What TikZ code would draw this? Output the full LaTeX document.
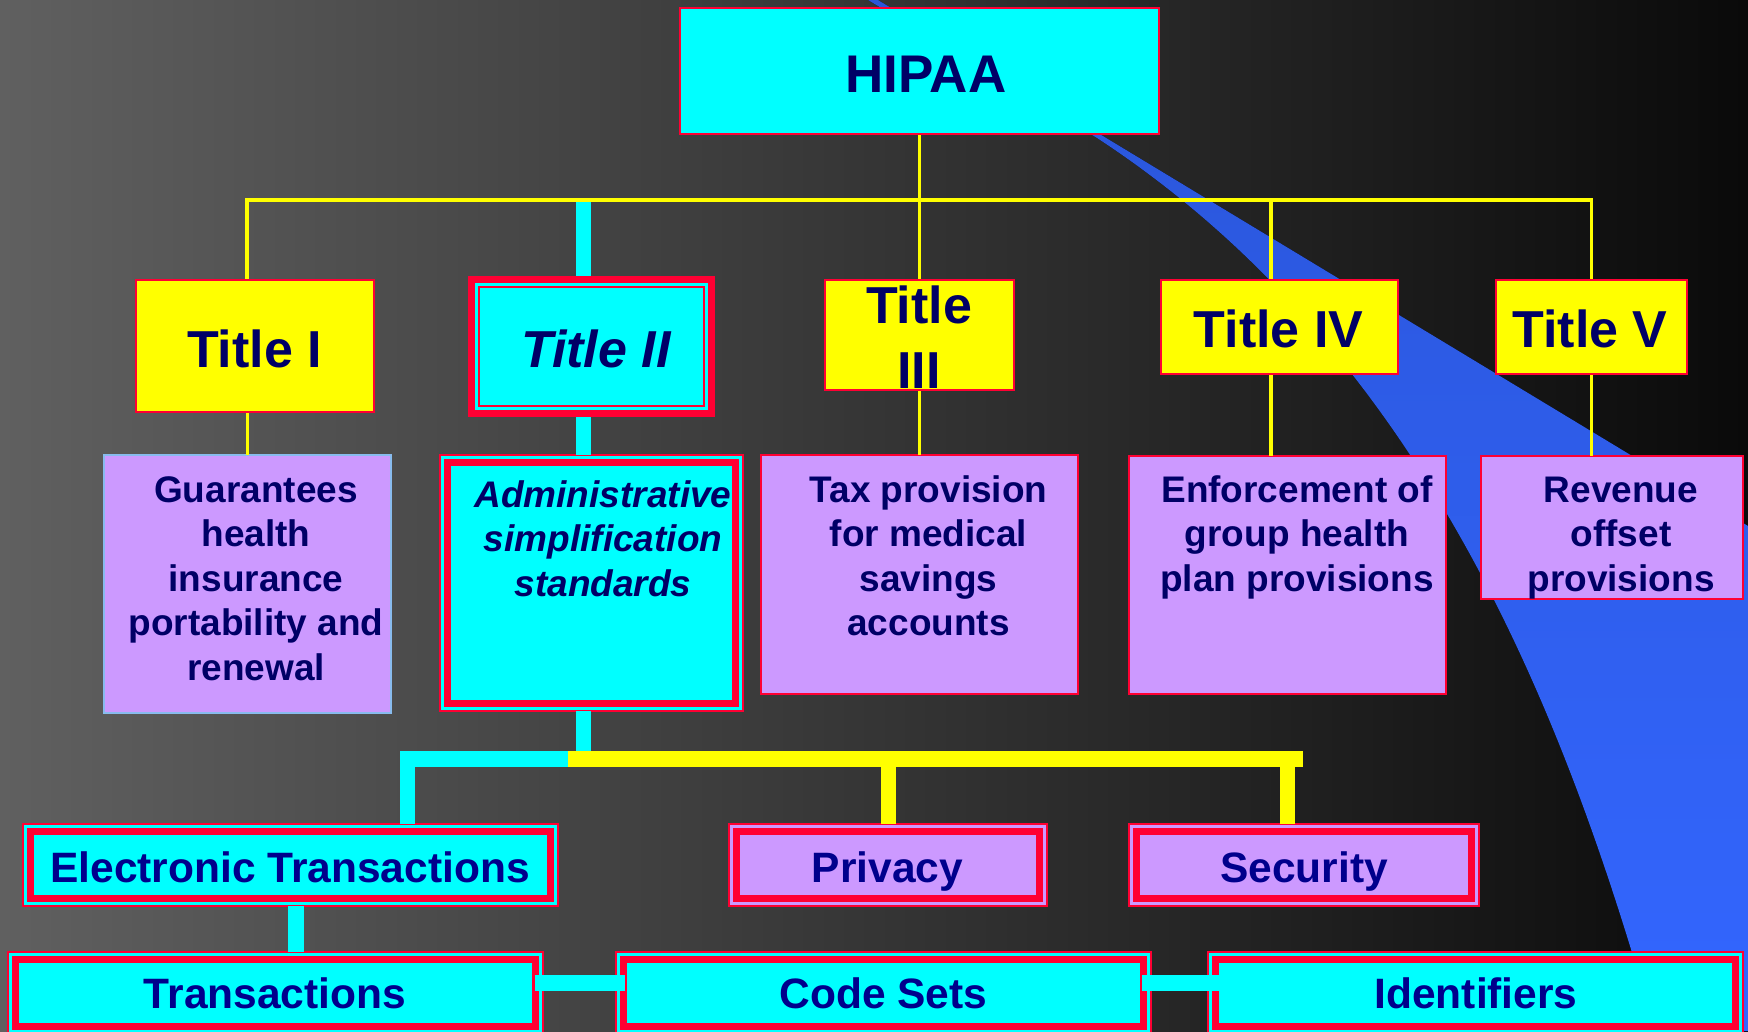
\documentclass[tikz,border=0pt]{standalone}
\usepackage{fontspec}
\setmainfont{Liberation Sans}
\definecolor{cyanC}{HTML}{00FFFF}
\definecolor{yel}{HTML}{FFFF00}
\definecolor{lav}{HTML}{CC99FF}
\definecolor{hred}{HTML}{FF0033}
\definecolor{navy}{HTML}{000066}
\definecolor{navyb}{HTML}{00008C}
\definecolor{lblue}{HTML}{88BBEE}
\definecolor{bgL}{HTML}{606060}
\definecolor{bgR}{HTML}{0A0A0A}
\definecolor{blueT}{HTML}{2A55D8}
\definecolor{blueB}{HTML}{3366FF}
\newcommand{\fontHip}{\bfseries\fontsize{53}{60}\selectfont}
\newcommand{\fontTtl}{\bfseries\fontsize{52}{65}\selectfont}
\newcommand{\fontBody}{\bfseries\fontsize{37}{44.5}\selectfont}
\newcommand{\fontLow}{\bfseries\fontsize{42.5}{50}\selectfont}
\tikzset{
  plainbx/.style={rectangle, inner sep=0pt, outer sep=0pt, draw=hred, line width=2pt, fill=#1},
  framebx/.style={plainbx=#1, path picture={
      \draw[hred, line width=7pt]
        ([shift={(7.5pt,-7.5pt)}]path picture bounding box.north west) rectangle
        ([shift={(-7.5pt,7.5pt)}]path picture bounding box.south east);}},
  titletwobx/.style={rectangle, inner sep=0pt, outer sep=0pt, fill=hred, path picture={
      \fill[cyanC]
        ([shift={(7pt,-7pt)}]path picture bounding box.north west) rectangle
        ([shift={(-7pt,7pt)}]path picture bounding box.south east);
      \draw[hred, line width=2pt]
        ([shift={(11pt,-11pt)}]path picture bounding box.north west) rectangle
        ([shift={(-11pt,11pt)}]path picture bounding box.south east);}},
  tx/.style={inner sep=0pt, outer sep=0pt, anchor=base, text=navy, align=center},
  txlow/.style={tx, text=navyb, font=\fontLow},
  yl/.style={draw=yel, line width=3.5pt},
  cl/.style={draw=cyanC, line width=15.5pt},
  ylt/.style={draw=yel, line width=16pt}
}
\begin{document}
\begin{tikzpicture}[x=1pt, y=-1pt]
\useasboundingbox (0,0) rectangle (1748,1031);
\clip (0,0) rectangle (1748,1031);
% background
\shade[left color=bgL, right color=bgR] (0,0) rectangle (1748,1031);
% blue swoosh
\fill[top color=blueT, bottom color=blueB] (878,0) -- (1748,526) -- (1748,1031) -- (1655,1031)
  .. controls (1565,712) and (1424,352) .. (1097,138) -- (868,0) -- cycle;

% boxes
\node[plainbx=cyanC, minimum width=479pt, minimum height=126pt] (hipaa) at (919.5,71) {};
\node[plainbx=yel, minimum width=238pt, minimum height=132pt] (t1) at (255,346) {};
\node[titletwobx, minimum width=247pt, minimum height=141pt] (t2) at (591.5,346.5) {};
\node[plainbx=yel, minimum width=189pt, minimum height=110pt] (t3) at (919.5,335) {};
\node[plainbx=yel, minimum width=237pt, minimum height=94pt] (t4) at (1279.5,327) {};
\node[plainbx=yel, minimum width=191pt, minimum height=94pt] (t5) at (1591.5,327) {};
\node[plainbx=lav, draw=lblue, minimum width=287pt, minimum height=258pt] (g) at (247.5,584) {};
\node[framebx=cyanC, minimum width=303pt, minimum height=256pt] (adm) at (591.5,583) {};
\node[plainbx=lav, minimum width=317pt, minimum height=239pt] (tax) at (919.5,574.5) {};
\node[plainbx=lav, minimum width=317pt, minimum height=238pt] (enf) at (1287.5,575) {};
\node[plainbx=lav, minimum width=262pt, minimum height=143pt] (rev) at (1612,527.5) {};
\node[framebx=cyanC, minimum width=535pt, minimum height=82pt] (et) at (290.5,865) {};
\node[framebx=lav, minimum width=318pt, minimum height=82pt] (priv) at (888,865) {};
\node[framebx=lav, minimum width=350pt, minimum height=82pt] (sec) at (1304,865) {};
\node[framebx=cyanC, minimum width=535pt, minimum height=82pt] (tr) at (275,993) {};
\node[framebx=cyanC, minimum width=535pt, minimum height=82pt] (cs) at (883.5,993) {};
\node[framebx=cyanC, minimum width=535pt, minimum height=82pt] (id) at (1475.5,993) {};

% coordinates for connectors
\coordinate (busL) at (247,200);
\coordinate (busR) at (1591.5,200);
\coordinate (b4) at (1271,200);
\coordinate (c2) at (583.5,201.5);
\coordinate (jA) at (583.5,759);
\coordinate (jL) at (407.5,759);
\coordinate (jY) at (568,759);
\coordinate (jR) at (1303,759);
\coordinate (jS) at (1287,759);

% cyan thick connectors
\draw[cl] (c2) -- (t2.north -| c2);
\draw[cl] (t2.south -| c2) -- (adm.north -| c2);
\draw[cl] (adm.south -| jA) -- (jA) -- (jL) -- (et.north -| jL);
\draw[cl, line width=16pt] ([xshift=5.5pt]et.south) -- ([xshift=5.5pt]et.south |- tr.north);
% yellow thick connectors
\draw[ylt] (jY) -- (jR);
\draw[ylt, line width=15pt] (priv.north |- jY) -- (priv.north);
\draw[ylt, line width=15pt] (jS) -- (sec.north -| jS);
% yellow thin connectors
\draw[yl] (t1.north -| busL) -- (busL) -- (busR) -- (t5.north);
\draw[yl] (hipaa.south) -- (t3.north);
\draw[yl] (t3.south) -- (tax.north);
\draw[yl] (t1.south -| g.north) -- (g.north);
\draw[yl] (b4) -- (t4.north -| b4);
\draw[yl] (t4.south -| b4) -- (enf.north -| b4);
\draw[yl] (t5.south) -- (t5.south |- rev.north);

% redraw boxes that connectors touch (keep connectors behind)
\node[plainbx=cyanC, minimum width=479pt, minimum height=126pt] at (hipaa) {};
\node[plainbx=yel, minimum width=238pt, minimum height=132pt] at (t1) {};
\node[plainbx=yel, minimum width=189pt, minimum height=110pt] at (t3) {};
\node[plainbx=yel, minimum width=237pt, minimum height=94pt] at (t4) {};
\node[plainbx=yel, minimum width=191pt, minimum height=94pt] at (t5) {};

% bottom horizontal connectors (over the frames)
\draw[cl, line width=16pt] ([xshift=-8pt,yshift=10pt]tr.east) -- ([xshift=9pt,yshift=10pt]cs.west);
\draw[cl, line width=16pt] ([xshift=-9pt,yshift=10pt]cs.east) -- ([xshift=13pt,yshift=10pt]id.west);

% texts (anchor base = baseline of the last line)
\node[tx, font=\fontHip] (hipaa-l) at (926,92) {HIPAA};
\node[tx, font=\fontTtl] (t1-l) at (254.5,367) {Title I};
\node[tx, font=\fontTtl\itshape] (t2-l) at (596,367) {Title II};
\node[tx, font=\fontTtl] (t3-l) at (919,388) {Title\\III};
\node[tx, font=\fontTtl] (t4-l) at (1278.5,347) {Title IV};
\node[tx, font=\fontTtl] (t5-l) at (1590,347) {Title V};
\node[tx, font=\fontBody] (g-l) at (256,680) {Guarantees\\health\\insurance\\portability and\\renewal};
\node[tx, font=\fontBody\itshape] (adm-l) at (603,596) {Administrative\\simplification\\standards};
\node[tx, font=\fontBody] (tax-l) at (928.5,635.5) {Tax provision\\for medical\\savings\\accounts};
\node[tx, font=\fontBody] (enf-l) at (1297,591) {Enforcement of\\group health\\plan provisions};
\node[tx, font=\fontBody] (rev-l) at (1621,591) {Revenue\\offset\\provisions};
\node[txlow] (et-l) at (290,882) {Electronic Transactions};
\node[txlow] (priv-l) at (887.5,882) {Privacy};
\node[txlow] (sec-l) at (1304,882) {Security};
\node[txlow] (tr-l) at (275,1008) {Transactions};
\node[txlow] (cs-l) at (883.5,1008) {Code Sets};
\node[txlow] (id-l) at (1476,1008) {Identifiers};
\end{tikzpicture}
\end{document}
